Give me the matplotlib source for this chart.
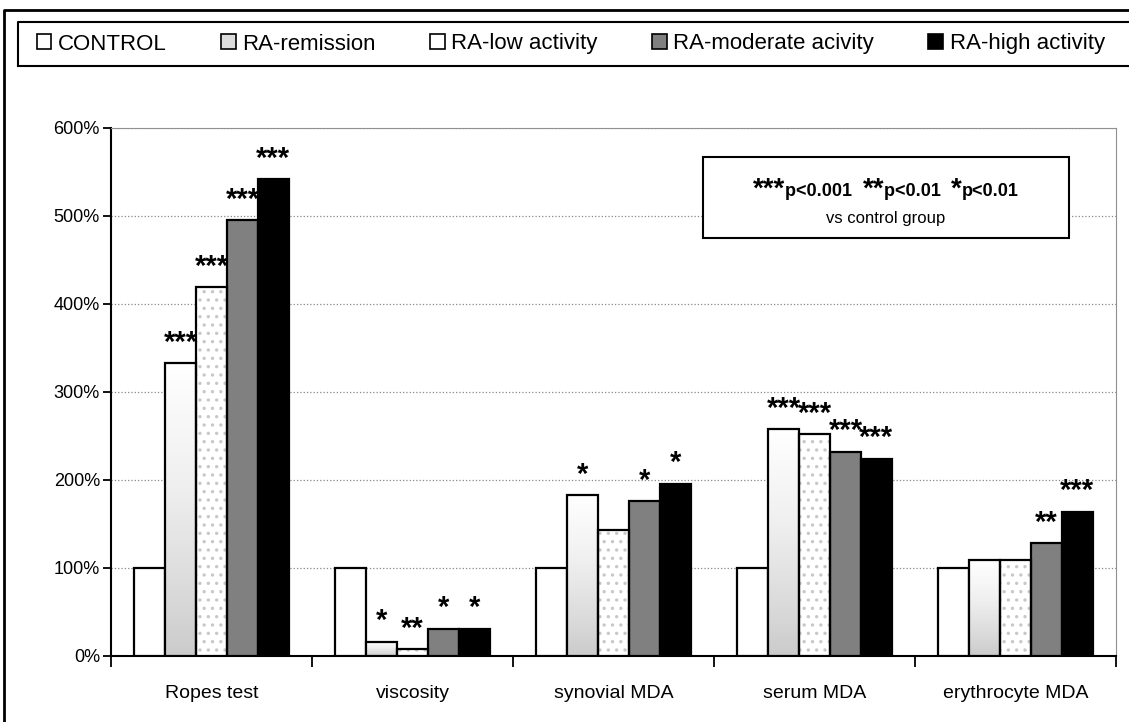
import numpy as np
import matplotlib
matplotlib.use("Agg")
from matplotlib import pyplot as plt
from matplotlib.patches import Patch, Rectangle
from matplotlib.lines import Line2D
from matplotlib.offsetbox import TextArea, HPacker, VPacker, AnchoredOffsetbox

plt.rcParams['font.family'] = ['Liberation Sans', 'DejaVu Sans']
plt.rcParams['hatch.linewidth'] = 1.2

categories = ["Ropes test", "viscosity", "synovial MDA", "serum MDA", "erythrocyte MDA"]
groups = ["CONTROL", "RA-remission", "RA-low activity", "RA-moderate acivity", "RA-high activity"]

# values in % of control
control = [100, 100, 100, 100, 100]
remission = [333, 16, 183, 258, 109]
low_activity = [419, 8, 143, 252, 109]
moderate = [495, 31, 176, 232, 128]
high = [542, 31, 196, 224, 164]

# significance marks above bars
marks_remission = ["***", "*", "*", "***", ""]
marks_low = ["***", "**", "", "***", ""]
marks_moderate = ["***", "*", "*", "***", "**"]
marks_high = ["***", "*", "*", "***", "***"]

series = [control, remission, low_activity, moderate, high]
marks = [[""] * 5, marks_remission, marks_low, marks_moderate, marks_high]

fig = plt.figure(figsize=(11.29, 7.22), dpi=100)
ax = fig.add_axes([111 / 1129, 1 - 656 / 722, 1005 / 1129, 528 / 722])

x = np.arange(len(categories))
w = 0.154
grad = np.linspace(0, 1, 256).reshape(-1, 1)

for k, vals in enumerate(series):
    pos = x + (k - 2) * w
    if k == 0:
        bars = ax.bar(pos, vals, w, color="white", edgecolor="black", lw=1.6, zorder=3)
    elif k == 1:
        bars = ax.bar(pos, vals, w, color="none", edgecolor="black", lw=1.6, zorder=4)
        for b in bars:
            x0, y0 = b.get_x(), b.get_y()
            im = ax.imshow(grad, cmap="Greys", vmin=0, vmax=3.2, origin="upper",
                           extent=(x0, x0 + b.get_width(), y0, y0 + b.get_height()),
                           aspect="auto", zorder=3)
            im.set_clip_path(b)
    elif k == 2:
        ax.bar(pos, vals, w, color="white", edgecolor="#c8c8c8", hatch="..", lw=0, zorder=3)
        bars = ax.bar(pos, vals, w, color="none", edgecolor="black", lw=1.6, zorder=4)
    elif k == 3:
        bars = ax.bar(pos, vals, w, color="#808080", edgecolor="black", lw=1.6, zorder=3)
    else:
        bars = ax.bar(pos, vals, w, color="black", edgecolor="black", lw=1.6, zorder=3)
    for b, m in zip(bars, marks[k]):
        if m:
            ax.annotate(m, (b.get_x() + b.get_width() / 2, b.get_height()),
                        xytext=(0, 9), textcoords="offset points", ha="center",
                        va="baseline", fontsize=21, fontweight="bold", zorder=5)

ax.set_xlim(-0.5, 4.5)
ax.set_ylim(0, 600)
ax.set_yticks(range(0, 601, 100))
ax.set_yticklabels([f"{v}%" for v in range(0, 601, 100)], fontsize=13)
ax.set_xticks(x)
ax.set_xticklabels(categories, fontsize=14)
ax.set_xticks(np.arange(-0.5, 5, 1), minor=True)
ax.tick_params(axis="x", which="major", length=0, pad=21)
ax.tick_params(axis="x", which="minor", length=8, width=1.3, direction="out")
ax.tick_params(axis="y", length=6, width=1.3, direction="out", pad=2)
ax.yaxis.grid(True, color="#888888", ls=":", lw=0.9, zorder=0)
ax.set_axisbelow(True)
for s in ["top", "right"]:
    ax.spines[s].set_color("#909090")
for s in ["left", "bottom"]:
    ax.spines[s].set_linewidth(1.5)

# significance key box
ax.add_patch(Rectangle((0.589, 0.792), 0.364, 0.153, transform=ax.transAxes,
                       facecolor="white", edgecolor="black", lw=1.5, zorder=6))
row = []
for star, txt in [("***", "p<0.001  "), ("**", "p<0.01  "), ("*", "p<0.01")]:
    row.append(TextArea(star, textprops=dict(fontsize=20, fontweight="bold")))
    row.append(TextArea(txt, textprops=dict(fontsize=13, fontweight="bold")))
key = VPacker(children=[HPacker(children=row, align="baseline", pad=0, sep=0),
                        TextArea("vs control group", textprops=dict(fontsize=12))],
              align="center", pad=0, sep=6)
ab = AnchoredOffsetbox(loc="center", child=key, frameon=False,
                       bbox_to_anchor=(0.771, 0.862), bbox_transform=ax.transAxes)
ab.zorder = 7
ax.add_artist(ab)

# legend
handles = [
    Patch(facecolor="white", edgecolor="black", lw=1.2),
    Patch(facecolor="#dcdcdc", edgecolor="black", lw=1.2),
    Patch(facecolor="white", edgecolor="black", lw=1.2),
    Patch(facecolor="#808080", edgecolor="black", lw=1.2),
    Patch(facecolor="black", edgecolor="black", lw=1.2),
]
fig.legend(handles, groups, ncol=5, loc="center left", frameon=False,
           bbox_to_anchor=(28 / 1129, 1 - 44 / 722), fontsize=16,
           handlelength=0.65, handleheight=0.65, handletextpad=0.3, columnspacing=2.45,
           borderaxespad=0)

fig.add_artist(Line2D([18 / 1129, 18 / 1129, 1.01], [1 - 66 / 722, 1 - 22 / 722, 1 - 22 / 722],
                      transform=fig.transFigure, color="black", lw=1.5))
fig.add_artist(Line2D([18 / 1129, 1.01], [1 - 66 / 722, 1 - 66 / 722],
                      transform=fig.transFigure, color="black", lw=1.5))
# outer frame
fig.add_artist(Line2D([4 / 1129, 4 / 1129, 1.01], [0, 1 - 10 / 722, 1 - 10 / 722],
                      transform=fig.transFigure, color="black", lw=2))

plt.savefig("out.png", dpi=100)
